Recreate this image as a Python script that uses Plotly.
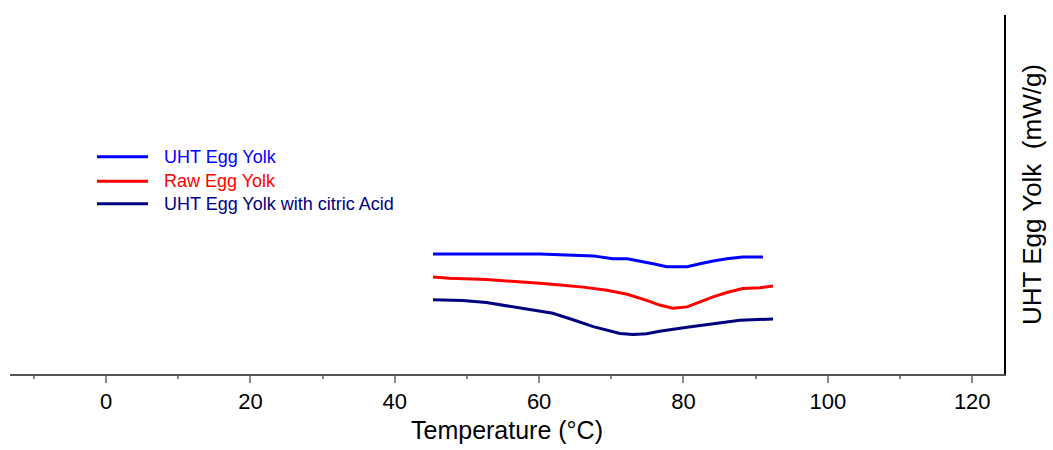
import plotly.graph_objects as go

# Temperature (°C) and heat flow (arbitrary mW/g units)
uht_T = [45.3, 60.1, 67.5, 70.2, 72.2, 74.0, 75.8, 77.7, 80.5, 82.3, 84.1, 86.0, 88.2, 91.0]
uht_Q = [3.34, 3.34, 3.29, 3.21, 3.21, 3.15, 3.07, 2.99, 2.99, 3.07, 3.15, 3.21, 3.26, 3.26]

raw_T = [45.3, 47.6, 52.7, 56.9, 60.1, 62.9, 66.1, 69.4, 72.2, 74.9, 76.7, 78.5, 80.5, 82.3, 84.1, 86.0, 88.2, 90.6, 92.4]
raw_Q = [2.70, 2.67, 2.63, 2.58, 2.53, 2.48, 2.42, 2.33, 2.22, 2.05, 1.92, 1.83, 1.87, 2.01, 2.15, 2.27, 2.38, 2.40, 2.45]

cit_T = [45.3, 49.4, 52.7, 55.5, 59.1, 61.9, 64.7, 67.5, 71.2, 73.0, 74.9, 76.7, 80.5, 84.1, 87.8, 92.4]
cit_Q = [2.07, 2.05, 1.99, 1.90, 1.78, 1.69, 1.51, 1.32, 1.13, 1.10, 1.12, 1.19, 1.30, 1.39, 1.50, 1.53]

names = ["UHT Egg Yolk", "Raw Egg Yolk", "UHT Egg Yolk with citric Acid"]
colors = ["#0000FF", "#FF0000", "#000080"]
x_ticks = [0, 20, 40, 60, 80, 100, 120]

FONT = "Liberation Sans, Arial, sans-serif"

fig = go.Figure()
for T, Q, n, c in zip([uht_T, raw_T, cit_T], [uht_Q, raw_Q, cit_Q], names, colors):
    fig.add_trace(go.Scatter(x=T, y=Q, mode="lines", name=n,
                             line=dict(color=c, width=3), showlegend=False))

# manual legend (longer line samples, coloured text)
leg_y = [0.605, 0.537, 0.474]
for n, c, yy in zip(names, colors, leg_y):
    fig.add_shape(type="line", xref="paper", yref="paper",
                  x0=0.0875, x1=0.1388, y0=yy, y1=yy,
                  line=dict(color=c, width=3))
    fig.add_annotation(xref="paper", yref="paper", x=0.1529, y=yy,
                       xanchor="left", yanchor="middle", showarrow=False,
                       text=n, font=dict(family=FONT, size=18, color=c))

fig.update_layout(
    width=1053, height=450,
    margin=dict(l=10, r=49, t=15, b=70),
    paper_bgcolor="white", plot_bgcolor="white",
    font=dict(family=FONT, color="black"),
    xaxis=dict(
        range=[-13.3, 124.4],
        tickmode="array", tickvals=x_ticks,
        ticks="outside", ticklen=7, tickwidth=1.5, tickcolor="#888888",
        minor=dict(dtick=10, tick0=-10, ticks="outside", ticklen=3, tickcolor="#888888", tickwidth=1.5),
        showline=True, linecolor="#555555", linewidth=1.5,
        showgrid=False, zeroline=False,
        tickfont=dict(size=22, color="black"),
        title=dict(text="Temperature (°C)", font=dict(size=25, color="black"), standoff=8),
    ),
    yaxis=dict(
        range=[0, 10], side="right",
        showline=True, linecolor="black", linewidth=1.5,
        showticklabels=False, ticks="", showgrid=False, zeroline=False,
        title=dict(text="UHT Egg Yolk  (mW/g)", font=dict(size=26, color="black"), standoff=18),
    ),
)

fig.write_html("out.html", config={"displayModeBar": False},
               post_script="document.body.style.margin='0px';")
